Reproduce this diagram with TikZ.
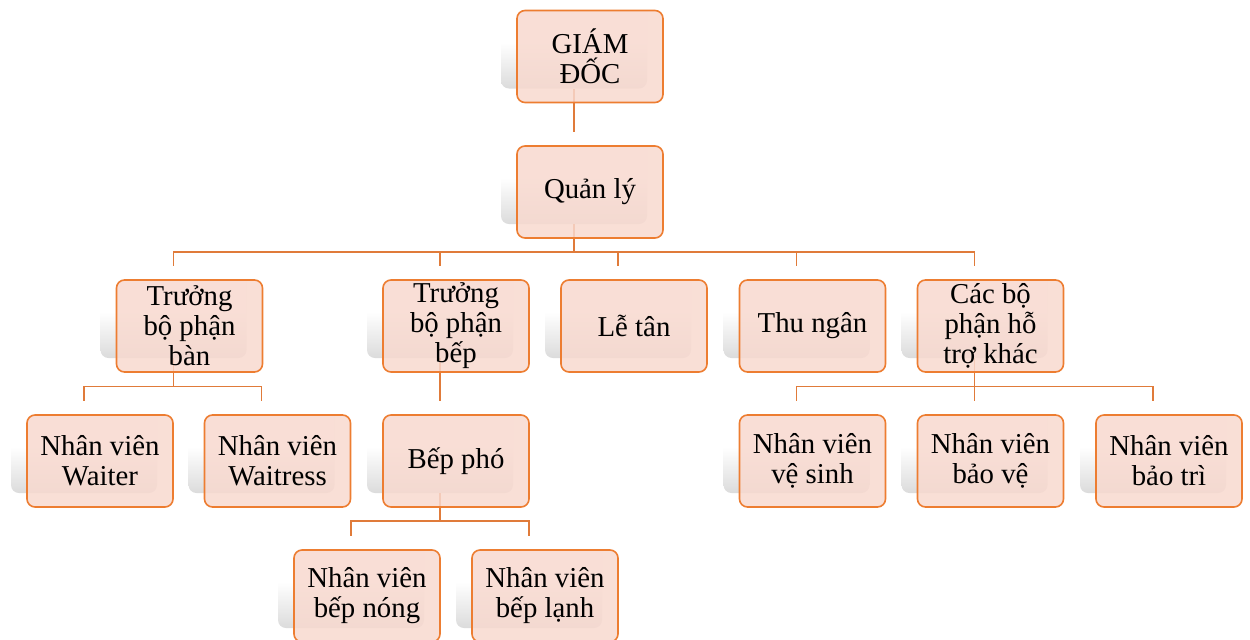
\documentclass[tikz,border=0pt]{standalone}
\usepackage{fontspec}
\setmainfont{Liberation Serif}
\usetikzlibrary{positioning}
\definecolor{boxline}{HTML}{ED7D31}
\definecolor{boxfill}{HTML}{F8D9CF}
\definecolor{linkline}{HTML}{E07B3A}
\pgfdeclareverticalshading{cardfade}{100bp}{color(0bp)=(black!14); color(25bp)=(black!14); color(50bp)=(white); color(100bp)=(white)}

\begin{document}
\begin{tikzpicture}
    [x=0.5pt, y=0.5pt,
    card/.style={rounded corners=4pt, minimum width=73pt, minimum height=46pt, inner sep=0pt,
        shading=cardfade},
    box/.style={draw=boxline, line width=0.8pt, rounded corners=4pt, fill=boxfill, fill opacity=0.85,
        text opacity=1, minimum width=73pt, minimum height=46pt, inner sep=0pt, align=center,
        font=\fontsize{14.4}{15}\selectfont, xshift=8pt, yshift=-7pt},
    link/.style={draw=linkline, line width=0.8pt}]
        \useasboundingbox (0,0) rectangle (1250,-639);

        %% back cards
        \node[card] (gd-s) at (574,-42.5) {};
        \node[card] (ql-s) at (574,-178) {};
        \node[card] (tbb-s) at (173.5,-312) {};
        \node[card] (tbbep-s) at (440,-312) {};
        \node[card] (lt-s) at (618,-312) {};
        \node[card] (tn-s) at (796.5,-312) {};
        \node[card] (cbp-s) at (974.5,-312) {};
        \node[card] (nvw-s) at (84,-447) {};
        \node[card] (nvws-s) at (261.5,-447) {};
        \node[card] (bp-s) at (440,-447) {};
        \node[card] (nvvs-s) at (796.5,-447) {};
        \node[card] (nvbv-s) at (974.5,-447) {};
        \node[card] (nvbt-s) at (1153,-447) {};
        \node[card] (nvbn-s) at (351,-582) {};
        \node[card] (nvbl-s) at (529,-582) {};

        %% links
        \draw[link] (gd-s.south) -- (ql-s.north);
        \foreach \c in {tbb,tbbep,lt,tn,cbp}
            \draw[link] (ql-s.south) -- ++(0,-27.5) -| (\c-s.north);
        \foreach \c in {nvw,nvws}
            \draw[link] (tbb-s.south) -- ++(0,-28) -| (\c-s.north);
        \draw[link] (tbbep-s.south) -- (bp-s.north);
        \foreach \c in {nvbn,nvbl}
            \draw[link] (bp-s.south) -- ++(0,-27.5) -| (\c-s.north);
        \foreach \c in {nvvs,nvbv,nvbt}
            \draw[link] (cbp-s.south) -- ++(0,-28) -| (\c-s.north);

        %% boxes
        \node[box] (gd) at (gd-s) {GIÁM\\ĐỐC};
        \node[box] (ql) at (ql-s) {Quản lý};
        \node[box] (tbb) at (tbb-s) {Trưởng\\bộ phận\\bàn};
        \node[box] (tbbep) at (tbbep-s) {Trưởng\\bộ phận\\bếp};
        \node[box] (lt) at (lt-s) {Lễ tân};
        \node[box] (tn) at (tn-s) {Thu ngân};
        \node[box] (cbp) at (cbp-s) {Các bộ\\phận hỗ\\trợ khác};
        \node[box] (nvw) at (nvw-s) {Nhân viên\\Waiter};
        \node[box] (nvws) at (nvws-s) {Nhân viên\\Waitress};
        \node[box] (bp) at (bp-s) {Bếp phó};
        \node[box] (nvvs) at (nvvs-s) {Nhân viên\\vệ sinh};
        \node[box] (nvbv) at (nvbv-s) {Nhân viên\\bảo vệ};
        \node[box] (nvbt) at (nvbt-s) {Nhân viên\\bảo trì};
        \node[box] (nvbn) at (nvbn-s) {Nhân viên\\bếp nóng};
        \node[box] (nvbl) at (nvbl-s) {Nhân viên\\bếp lạnh};
    \end{tikzpicture}
\end{document}
